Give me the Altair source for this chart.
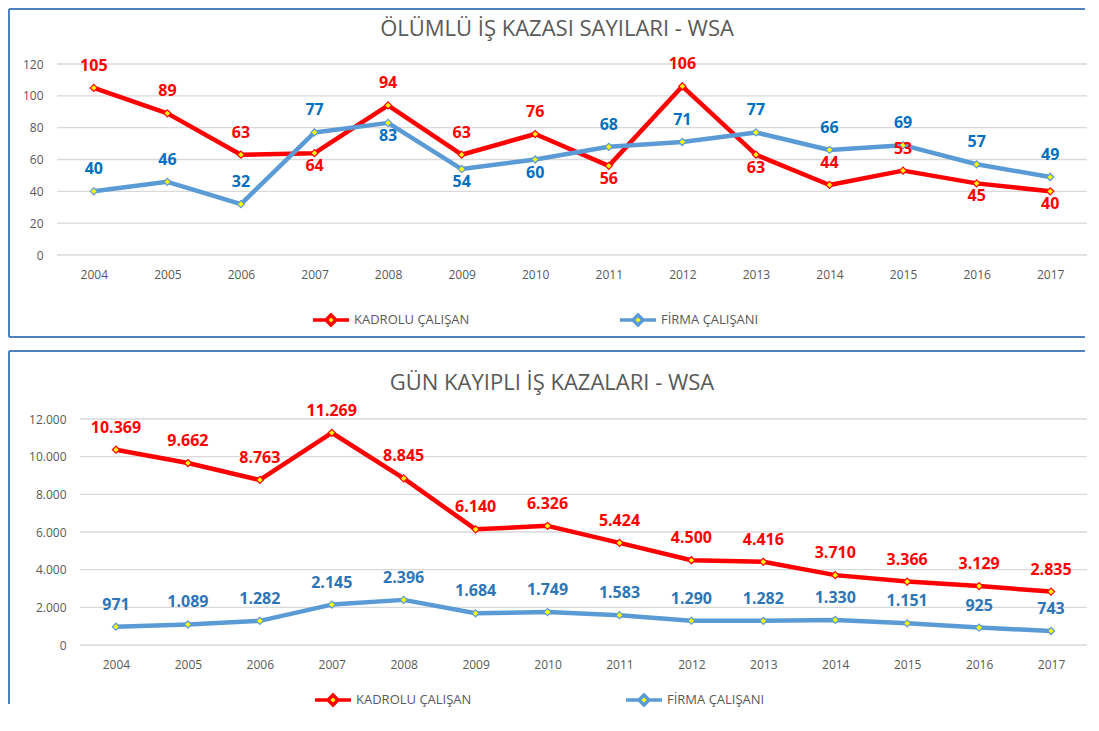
import altair as alt
import pandas as pd

years = [str(y) for y in range(2004, 2018)]
series_names = ["KADROLU ÇALIŞAN", "FİRMA ÇALIŞANI"]

fatal_kadrolu = [105, 89, 63, 64, 94, 63, 76, 56, 106, 63, 44, 53, 45, 40]
fatal_firma = [40, 46, 32, 77, 83, 54, 60, 68, 71, 77, 66, 69, 57, 49]
lost_kadrolu = [10369, 9662, 8763, 11269, 8845, 6140, 6326, 5424, 4500, 4416, 3710, 3366, 3129, 2835]
lost_firma = [971, 1089, 1282, 2145, 2396, 1684, 1749, 1583, 1290, 1282, 1330, 1151, 925, 743]

fatal_ticks = [0, 20, 40, 60, 80, 100, 120]
lost_ticks = [0, 2000, 4000, 6000, 8000, 10000, 12000]

# years whose data label sits below the marker
fatal_kadrolu_below = ["2007", "2011", "2013", "2016", "2017"]
fatal_firma_below = ["2008", "2009", "2010"]

title_fatal = "ÖLÜMLÜ İŞ KAZASI SAYILARI - WSA"
title_lost = "GÜN KAYIPLI İŞ KAZALARI - WSA"

FONT = "Open Sans"
LINE_COLORS = ["#FF0000", "#5B9BD5"]
BORDER = "#4F81BD"
GREY = "#595959"
LEGEND_PATH = "M-1.64,0H-0.45M0.45,0H1.64M0,-0.45L0.45,0L0,0.45L-0.45,0Z"


def fmt(v):
    return f"{v:,}".replace(",", ".")


def build_df(kad, fir, label_colors, below_k=(), below_f=()):
    rows = []
    for name, vals, below, lc in ((series_names[0], kad, below_k, label_colors[0]),
                                  (series_names[1], fir, below_f, label_colors[1])):
        for y, v in zip(years, vals):
            rows.append({"year": y, "value": v, "series": name, "label": fmt(v),
                         "below": y in below, "lc": lc})
    return pd.DataFrame(rows)


def rule(x, x2, y, y2):
    return alt.Chart(pd.DataFrame({"a": [0]})).mark_rule(
        color=BORDER, strokeWidth=2
    ).encode(x=alt.value(x), x2=alt.value(x2), y=alt.value(y), y2=alt.value(y2))


def panel(df, ticks, title, w, h, shift, xscale, borders, title_xy, legend_xy, col_pad,
          label_expr=None):
    ymax = ticks[-1]
    xenc = alt.X("year:N", sort=years, title=None, scale=xscale,
                 axis=alt.Axis(labelAngle=0, ticks=False, domain=False, labelPadding=14,
                               labelFont=FONT, labelFontSize=12, labelColor=GREY))
    yaxis = dict(values=ticks, ticks=False, domain=False, grid=False, offset=shift,
                 labelPadding=14, labelFont=FONT, labelFontSize=12, labelColor=GREY)
    if label_expr:
        yaxis["labelExpr"] = label_expr
    yscale = alt.Scale(domain=[0, ymax], nice=False)
    yenc = alt.Y("value:Q", title=None, scale=yscale, axis=alt.Axis(**yaxis))
    grid = alt.Chart(pd.DataFrame({"value": ticks})).mark_rule(
        color="#D9D9D9", strokeWidth=1.3).encode(
        y=yenc, x=alt.value(-shift), x2=alt.value(w))
    cscale = alt.Scale(domain=series_names, range=LINE_COLORS)
    base = alt.Chart(df)
    line = base.mark_line(strokeWidth=4.5, strokeCap="round", strokeJoin="round").encode(
        x=xenc, y=yenc,
        color=alt.Color("series:N", scale=cscale, sort=series_names,
                        legend=alt.Legend(title=None, orient="none",
                                          legendX=legend_xy[0], legendY=legend_xy[1],
                                          direction="horizontal",
                                          symbolType=LEGEND_PATH, symbolSize=484,
                                          symbolStrokeWidth=3.5, symbolFillColor="#FFFF00",
                                          labelFont=FONT, labelFontSize=13, labelColor=GREY,
                                          labelOffset=10, columnPadding=col_pad, padding=0)))
    pts = base.mark_point(shape="diamond", filled=True, fill="#FFFF00", size=50,
                          strokeWidth=1.2, opacity=1).encode(
        x=xenc, y=yenc, stroke=alt.Stroke("series:N", scale=cscale, legend=None))
    above = base.transform_filter("!datum.below").mark_text(
        baseline="bottom", dy=-14, font=FONT, fontSize=16, fontWeight="bold").encode(
        x=xenc, y=yenc, text="label:N", color=alt.Color("lc:N", scale=None))
    below = base.transform_filter("datum.below").mark_text(
        baseline="top", dy=5, font=FONT, fontSize=16, fontWeight="bold").encode(
        x=xenc, y=yenc, text="label:N", color=alt.Color("lc:N", scale=None))
    ttl = alt.Chart(pd.DataFrame({"t": [title]})).mark_text(
        font=FONT, fontSize=22, color=GREY, align="center", baseline="top").encode(
        text="t:N", x=alt.value(title_xy[0]), y=alt.value(title_xy[1]))
    return alt.layer(*borders, grid, line, pts, above, below, ttl).properties(width=w, height=h)


top_df = build_df(fatal_kadrolu, fatal_firma, ["#FF0000", "#0070C0"],
                  fatal_kadrolu_below, fatal_firma_below)
bot_df = build_df(lost_kadrolu, lost_firma, ["#FF0000", "#2E75B6"])

W, H1, H2 = 1007, 191, 226
top = panel(top_df, fatal_ticks, title_fatal, W, H1, 23,
            alt.Scale(padding=0.344, align=0.273),
            [rule(-71, -71, -55, 273), rule(-71, W - 2, -55, -55), rule(-71, W - 2, 273, 273)],
            (477, -45), (238, 243), 142)

bottom = panel(bot_df, lost_ticks, title_lost, W, H2, 0,
               alt.Scale(padding=0.5),
               [rule(-71, -71, -68, 285), rule(-71, W - 2, -68, -68)],
               (472, -46), (240, 268), 146,
               label_expr="replace(format(datum.value, ','), ',', '.')")

chart = alt.vconcat(top, bottom, spacing=12).resolve_scale(
    color="independent", stroke="independent"
).resolve_legend(color="independent").properties(padding=0).configure_view(stroke=None)

chart.save("out.html", embed_options={"renderer": "svg", "actions": False})
